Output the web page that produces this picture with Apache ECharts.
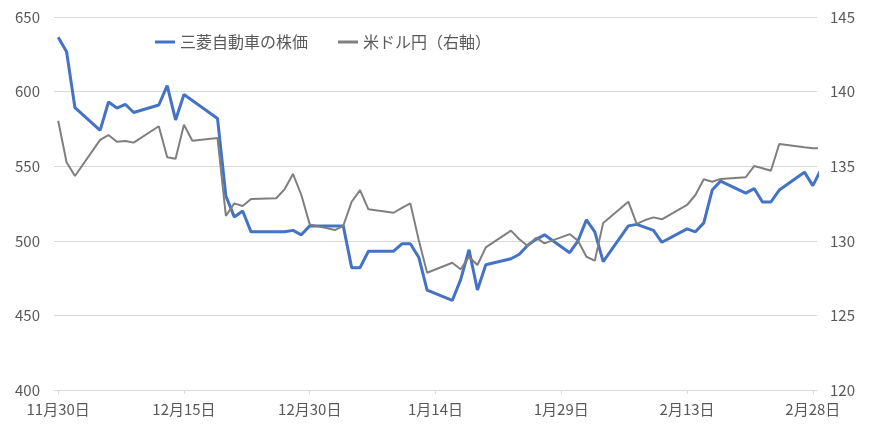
<!DOCTYPE html>
<html><head><meta charset="utf-8">
<script src="https://cdn.jsdelivr.net/npm/echarts@6/dist/echarts.min.js"></script>
<style>html,body{margin:0;padding:0;background:#fff}#c{width:870px;height:434px}</style>
</head><body><div id="c"></div>
<script>
const dates = [
  '2022-11-30','2022-12-01','2022-12-02','2022-12-05','2022-12-06','2022-12-07','2022-12-08','2022-12-09',
  '2022-12-12','2022-12-13','2022-12-14','2022-12-15','2022-12-16','2022-12-19','2022-12-20','2022-12-21',
  '2022-12-22','2022-12-23','2022-12-26','2022-12-27','2022-12-28','2022-12-29','2022-12-30','2023-01-02',
  '2023-01-03','2023-01-04','2023-01-05','2023-01-06','2023-01-09','2023-01-10','2023-01-11','2023-01-12',
  '2023-01-13','2023-01-16','2023-01-17','2023-01-18','2023-01-19','2023-01-20','2023-01-23','2023-01-24',
  '2023-01-25','2023-01-26','2023-01-27','2023-01-30','2023-01-31','2023-02-01','2023-02-02','2023-02-03',
  '2023-02-06','2023-02-07','2023-02-08','2023-02-09','2023-02-10','2023-02-13','2023-02-14','2023-02-15',
  '2023-02-16','2023-02-17','2023-02-20','2023-02-21','2023-02-22','2023-02-23','2023-02-24','2023-02-27',
  '2023-02-28','2023-03-01'
];
const stockPrice = [
  636.4,626.7,589.2,574,593,589,591.5,586,
  591,604,581,598,594,582,530,516,
  520,506,506,506,507,504,510,510,
  510,482,482,493,493,498,498,489,
  467,460,474,494,467,484,488,491,
  497,501,504,492,500,514,506,486,
  510,511,509,507,499,508,506,512,
  534,540,532,535,526,526,534,546,
  537,548
];
const usdJpy = [
  138.05,135.26,134.34,136.76,137.09,136.64,136.69,136.58,
  137.68,135.6,135.5,137.78,136.71,136.89,131.67,132.51,
  132.33,132.8,132.85,133.45,134.48,133.07,131.1,130.72,
  131.0,132.62,133.4,132.11,131.88,132.2,132.51,130.05,
  127.86,128.53,128.09,128.93,128.38,129.56,130.68,130.1,
  129.65,130.21,129.83,130.45,130.0,128.93,128.67,131.2,
  132.62,131.13,131.39,131.57,131.44,132.4,133.07,134.12,
  133.96,134.15,134.26,135.01,134.86,134.7,136.49,136.27,
  136.2,136.2
];
const seriesNames = ['三菱自動車の株価','米ドル円（右軸）'];
const xLabelDays = [0,15,30,45,60,75,90];

const base = Date.UTC(2022,10,30);
const DAY = 86400000;
const dayIdx = d => Math.round((Date.parse(d + 'T00:00:00Z') - base) / DAY);
const fmt = v => { const dt = new Date(base + Math.round(v) * DAY); return (dt.getUTCMonth()+1) + '月' + dt.getUTCDate() + '日'; };

const chart = echarts.init(document.getElementById('c'));
const txt = '#595959', grid = '#D9D9D9';
chart.setOption({
  animation: false,
  textStyle: { fontFamily: 'Noto Sans CJK JP' },
  grid: { left: 54, right: 53, top: 17, bottom: 44 },
  legend: {
    top: 34, left: 155, padding: 0, itemGap: 30, itemWidth: 20, itemHeight: 3,
    textStyle: { color: txt, fontSize: 16, fontFamily: 'Noto Sans CJK JP' },
    data: [
      { name: seriesNames[0], icon: 'rect' },
      { name: seriesNames[1], icon: 'rect' }
    ]
  },
  xAxis: {
    type: 'value', min: -0.5, max: 90.5,
    splitLine: { show: false },
    axisLine: { show: true, onZero: false, lineStyle: { color: grid } },
    axisTick: { show: true, customValues: xLabelDays, length: 4, lineStyle: { color: grid } },
    axisLabel: { customValues: xLabelDays, formatter: fmt, color: txt, fontSize: 15, margin: 12 }
  },
  yAxis: [
    { type: 'value', min: 400, max: 650, interval: 50,
      axisLine: { show: false }, axisTick: { show: false },
      splitLine: { lineStyle: { color: grid } },
      axisLabel: { color: txt, fontSize: 15, margin: 14 } },
    { type: 'value', min: 120, max: 145, interval: 5, position: 'right',
      axisLine: { show: false }, axisTick: { show: false },
      splitLine: { show: false },
      axisLabel: { color: txt, fontSize: 15, margin: 13 } }
  ],
  series: [
    { name: seriesNames[0], type: 'line', yAxisIndex: 0, showSymbol: false, clip: true,
      color: '#4472C4', lineStyle: { width: 3, color: '#4472C4' },
      data: dates.map((d, i) => [dayIdx(d), stockPrice[i]]) },
    { name: seriesNames[1], type: 'line', yAxisIndex: 1, showSymbol: false, clip: true,
      color: '#7F7F7F', lineStyle: { width: 2, color: '#7F7F7F' },
      data: dates.map((d, i) => [dayIdx(d), usdJpy[i]]) }
  ]
});
</script></body></html>
